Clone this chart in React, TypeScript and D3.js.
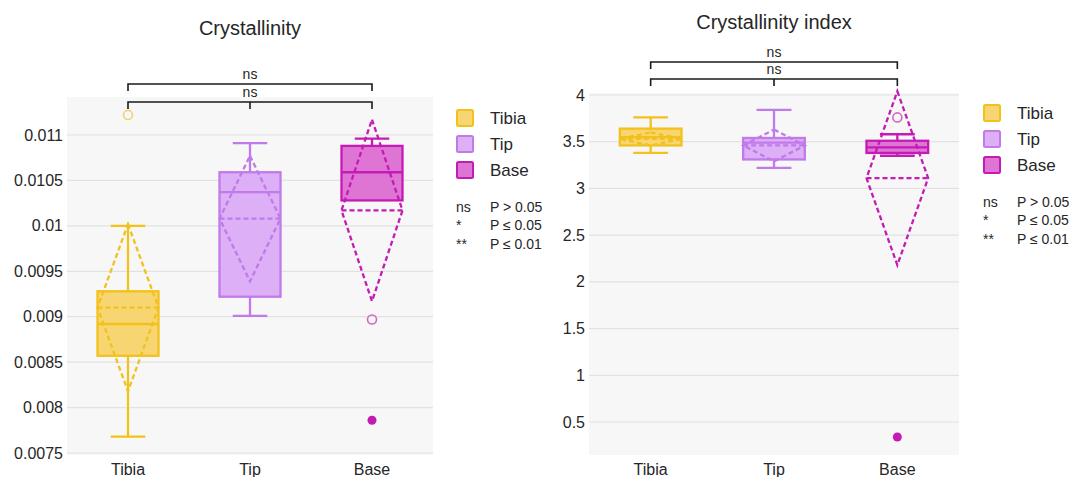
import React from "react";
import * as d3 from "d3";

const groups = ["Tibia", "Tip", "Base"];
const strokeColors = ["#F3C11C", "#C07AEA", "#C51BB5"];
const fillColors = ["#F7D672", "#DCAFF6", "#DE74D4"];
const mildColors = ["#F5D36A", "#C07AEA", "#CF6AC6"];

// Crystallinity
const crystTicks = [0.0075, 0.008, 0.0085, 0.009, 0.0095, 0.01, 0.0105, 0.011];
const crystTickLabels = ["0.0075", "0.008", "0.0085", "0.009", "0.0095", "0.01", "0.0105", "0.011"];
const crystWhiskerLow = [0.00768, 0.00901, 0.01028];
const crystQ1 = [0.00857, 0.00922, 0.01028];
const crystMedian = [0.00892, 0.01037, 0.01059];
const crystQ3 = [0.00928, 0.01059, 0.01088];
const crystWhiskerHigh = [0.01, 0.01091, 0.01096];
const crystMean = [0.0091, 0.01008, 0.01017];
const crystSD = [0.00092, 0.00069, 0.001];
const crystMildOutliers = [
  { group: "Tibia", value: 0.01122 },
  { group: "Base", value: 0.00897 },
];
const crystExtremeOutliers = [{ group: "Base", value: 0.00786 }];

// Crystallinity index
const ciTicks = [0.5, 1, 1.5, 2, 2.5, 3, 3.5, 4];
const ciTickLabels = ["0.5", "1", "1.5", "2", "2.5", "3", "3.5", "4"];
const ciWhiskerLow = [3.38, 3.22, 3.35];
const ciQ1 = [3.46, 3.31, 3.38];
const ciMedian = [3.55, 3.49, 3.44];
const ciQ3 = [3.64, 3.54, 3.51];
const ciWhiskerHigh = [3.76, 3.84, 3.58];
const ciMean = [3.53, 3.46, 3.11];
const ciSD = [0.07, 0.17, 0.93];
const ciMildOutliers = [{ group: "Base", value: 3.76 }];
const ciExtremeOutliers = [{ group: "Base", value: 0.34 }];

const sigLabels = ["ns", "*", "**"];
const sigMeanings = ["P > 0.05", "P ≤ 0.05", "P ≤ 0.01"];

const FONT = "'Liberation Sans', Arial, sans-serif";
const TEXT = "#262626";
const SW = 2.3;

type PanelProps = {
  title: string;
  titleY: number;
  x0: number;
  x1: number;
  y0: number;
  y1: number;
  domain: [number, number];
  ticks: number[];
  tickLabels: string[];
  lo: number[];
  q1: number[];
  med: number[];
  q3: number[];
  hi: number[];
  mean: number[];
  sd: number[];
  mild: { group: string; value: number }[];
  extreme: { group: string; value: number }[];
  bracketY: [number, number];
  legendX: number;
  legendY: number;
};

function Panel(p: PanelProps) {
  const x = d3.scaleBand<string>().domain(groups).range([p.x0, p.x1]);
  const y = d3.scaleLinear().domain(p.domain).range([p.y1, p.y0]);
  const bw = x.bandwidth() * 0.5;
  const cx = (g: string) => (x(g) as number) + x.bandwidth() / 2;
  const titleX = (p.x0 + p.x1) / 2;
  const left = cx(groups[0]);
  const mid = cx(groups[1]);
  const right = cx(groups[2]);

  return (
    <g>
      <text x={titleX} y={p.titleY} textAnchor="middle" fontSize={20} fill={TEXT}>
        {p.title}
      </text>
      <rect x={p.x0} y={p.y0} width={p.x1 - p.x0} height={p.y1 - p.y0} fill="#F7F7F7" />
      {p.ticks.map((t, i) => (
        <g key={t}>
          <line x1={p.x0} x2={p.x1} y1={y(t)} y2={y(t)} stroke="#E2E2E2" strokeWidth={1.2} />
          <text x={p.x0 - 4} y={y(t)} dy="0.35em" textAnchor="end" fontSize={16} fill={TEXT}>
            {p.tickLabels[i]}
          </text>
        </g>
      ))}
      {groups.map((g, i) => {
        const c = cx(g);
        const s = strokeColors[i];
        const capW = bw * 0.5;
        return (
          <g key={g}>
            <line x1={c} x2={c} y1={y(p.hi[i])} y2={y(p.q3[i])} stroke={s} strokeWidth={SW} />
            <line x1={c} x2={c} y1={y(p.q1[i])} y2={y(p.lo[i])} stroke={s} strokeWidth={SW} />
            <line x1={c - capW / 2 - 2} x2={c + capW / 2 + 2} y1={y(p.hi[i])} y2={y(p.hi[i])} stroke={s} strokeWidth={SW} />
            {p.lo[i] < p.q1[i] && (
              <line x1={c - capW / 2 - 2} x2={c + capW / 2 + 2} y1={y(p.lo[i])} y2={y(p.lo[i])} stroke={s} strokeWidth={SW} />
            )}
            <rect
              x={c - bw / 2}
              y={y(p.q3[i])}
              width={bw}
              height={y(p.q1[i]) - y(p.q3[i])}
              fill={fillColors[i]}
              stroke={s}
              strokeWidth={SW}
            />
            <line x1={c - bw / 2} x2={c + bw / 2} y1={y(p.med[i])} y2={y(p.med[i])} stroke={s} strokeWidth={SW} />
            <polygon
              points={[
                [c, y(p.mean[i] + p.sd[i])],
                [c + bw / 2, y(p.mean[i])],
                [c, y(p.mean[i] - p.sd[i])],
                [c - bw / 2, y(p.mean[i])],
              ]
                .map((pt) => pt.join(","))
                .join(" ")}
              fill="none"
              stroke={s}
              strokeWidth={SW}
              strokeDasharray="5,3"
            />
            <line
              x1={c - bw / 2}
              x2={c + bw / 2}
              y1={y(p.mean[i])}
              y2={y(p.mean[i])}
              stroke={s}
              strokeWidth={SW}
              strokeDasharray="5,3"
            />
          </g>
        );
      })}
      {p.mild.map((o, k) => {
        const i = groups.indexOf(o.group);
        return (
          <circle key={"m" + k} cx={cx(o.group)} cy={y(o.value)} r={4.5} fill="none" stroke={mildColors[i]} strokeWidth={1.6} />
        );
      })}
      {p.extreme.map((o, k) => {
        const i = groups.indexOf(o.group);
        return <circle key={"e" + k} cx={cx(o.group)} cy={y(o.value)} r={4.5} fill={strokeColors[i]} />;
      })}
      {groups.map((g) => (
        <text key={"xl" + g} x={cx(g)} y={p.y1 + 20} textAnchor="middle" fontSize={16} fill={TEXT}>
          {g}
        </text>
      ))}
      {/* significance brackets */}
      <g stroke="#1a1a1a" strokeWidth={1.6} fill="none">
        <path d={`M${left},${p.bracketY[0] + 7}V${p.bracketY[0]}H${right}V${p.bracketY[0] + 7}`} />
        <path d={`M${left},${p.bracketY[1] + 7}V${p.bracketY[1]}H${right}V${p.bracketY[1] + 7}M${mid},${p.bracketY[1]}V${p.bracketY[1] + 7}`} />
      </g>
      <text x={mid} y={p.bracketY[0] - 5} textAnchor="middle" fontSize={14} fill={TEXT}>
        ns
      </text>
      <text x={mid} y={p.bracketY[1] - 5} textAnchor="middle" fontSize={14} fill={TEXT}>
        ns
      </text>
      {/* legend */}
      {groups.map((g, i) => (
        <g key={"lg" + g}>
          <rect
            x={p.legendX + 1}
            y={p.legendY + i * 26 - 8}
            width={16}
            height={16}
            rx={1.5}
            fill={fillColors[i]}
            stroke={strokeColors[i]}
            strokeWidth={2}
          />
          <text x={p.legendX + 34} y={p.legendY + i * 26} dy="0.35em" fontSize={17} fill={TEXT}>
            {g}
          </text>
        </g>
      ))}
      {sigLabels.map((s, i) => (
        <g key={"sg" + i}>
          <text x={p.legendX} y={p.legendY + 89 + i * 18.5} dy="0.35em" fontSize={14} fill={TEXT}>
            {s}
          </text>
          <text x={p.legendX + 34} y={p.legendY + 89 + i * 18.5} dy="0.35em" fontSize={14} fill={TEXT}>
            {sigMeanings[i]}
          </text>
        </g>
      ))}
    </g>
  );
}

export default function App() {
  return (
    <svg
      width={1072}
      height={477}
      style={{ position: "absolute", left: 0, top: 0, background: "#ffffff" }}
      fontFamily={FONT}
    >
      <Panel
        title="Crystallinity"
        titleY={35}
        x0={67}
        x1={433}
        y0={97}
        y1={455}
        domain={[0.007478, 0.011418]}
        ticks={crystTicks}
        tickLabels={crystTickLabels}
        lo={crystWhiskerLow}
        q1={crystQ1}
        med={crystMedian}
        q3={crystQ3}
        hi={crystWhiskerHigh}
        mean={crystMean}
        sd={crystSD}
        mild={crystMildOutliers}
        extreme={crystExtremeOutliers}
        bracketY={[84, 102]}
        legendX={456}
        legendY={118}
      />
      <Panel
        title="Crystallinity index"
        titleY={29}
        x0={589}
        x1={959}
        y0={93}
        y1={455}
        domain={[0.1468, 4.0214]}
        ticks={ciTicks}
        tickLabels={ciTickLabels}
        lo={ciWhiskerLow}
        q1={ciQ1}
        med={ciMedian}
        q3={ciQ3}
        hi={ciWhiskerHigh}
        mean={ciMean}
        sd={ciSD}
        mild={ciMildOutliers}
        extreme={ciExtremeOutliers}
        bracketY={[62, 79]}
        legendX={983}
        legendY={113}
      />
    </svg>
  );
}
